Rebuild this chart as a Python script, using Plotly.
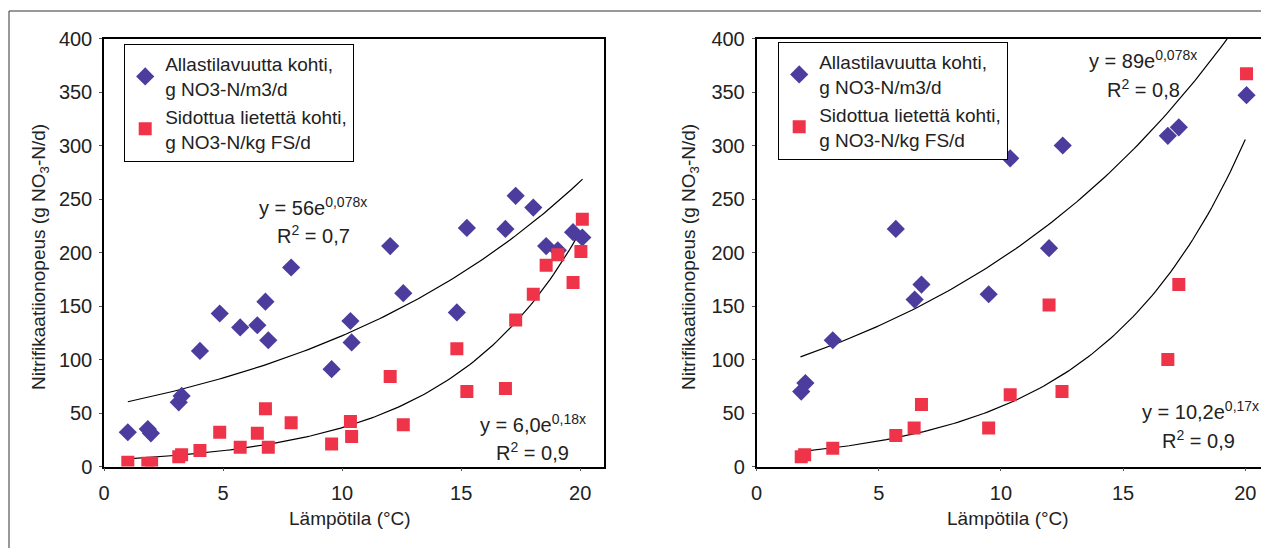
import numpy as np
import plotly.graph_objects as go

# ---------------- data ----------------
# Left panel
left_blue_x = [1.0, 1.84, 1.97, 3.14, 3.26, 4.03, 4.86, 5.72, 6.44, 6.78, 6.9, 7.86, 9.56,
               10.35, 10.4, 12.02, 12.57, 14.82, 15.24, 16.86, 17.29, 18.03, 18.57, 19.06,
               19.7, 20.09]
left_blue_y = [32, 35, 31, 60, 66, 108, 143, 130, 132, 154, 118, 186, 91,
               136, 116, 206, 162, 144, 223, 222, 253, 242, 206, 202,
               219, 214]
left_red_x = [1.0, 1.84, 2.0, 3.14, 3.26, 4.03, 4.86, 5.72, 6.44, 6.78, 6.9, 7.86, 9.56,
              10.35, 10.4, 12.02, 12.57, 14.82, 15.24, 16.86, 17.29, 18.03, 18.57, 19.06,
              19.7, 20.09, 20.03]
left_red_y = [4, 3, 3, 9, 11, 15, 32, 18, 31, 54, 18, 41, 21,
              42, 28, 84, 39, 110, 70, 73, 137, 161, 188, 198,
              172, 231, 201]

# Right panel
right_blue_x = [1.83, 2.0, 3.12, 5.7, 6.47, 6.75, 9.5, 10.38, 11.97, 12.53, 16.83, 17.28, 20.05]
right_blue_y = [70, 78, 118, 222, 156, 170, 161, 288, 204, 300, 309, 317, 347]
right_red_x = [1.83, 1.97, 3.12, 5.7, 6.45, 6.75, 9.5, 10.38, 11.97, 12.5, 16.83, 17.28, 20.05]
right_red_y = [9, 11, 17, 29, 36, 58, 36, 67, 151, 70, 100, 170, 367]

# Trendline coefficients (a * exp(b x)) and drawn x-extent, as printed on the chart
left_blue_fit = (56.0, 0.078, 1.0, 20.1)
left_red_fit = (6.0, 0.18, 1.0, 20.0)
right_blue_fit = (89.0, 0.078, 1.8, 19.27)
right_red_fit = (10.2, 0.17, 1.8, 20.0)

x_ticks = [0, 5, 10, 15, 20]
y_ticks = [0, 50, 100, 150, 200, 250, 300, 350, 400]

series_names = ["Allastilavuutta kohti,<br>g NO3-N/m3/d",
                "Sidottua lietettä kohti,<br>g NO3-N/kg FS/d"]

BLUE = "#4B3C9E"
RED = "#EF3348"
TXT = "#222222"
FONT = "Liberation Sans, Arial, sans-serif"

W, H = 1269, 548
OFF = 8  # page offset of the figure inside the browser window


def px(x):
    return (x - OFF) / W


def py(y):
    return 1 - (y - OFF) / H


fig = go.Figure()


def fit_curve(fit):
    a, b, x0, x1 = fit
    xs = np.linspace(x0, x1, 120)
    return xs, a * np.exp(b * xs)


panels = [
    ("x", "y", "legend", left_blue_x, left_blue_y, left_red_x, left_red_y, left_blue_fit, left_red_fit),
    ("x2", "y2", "legend2", right_blue_x, right_blue_y, right_red_x, right_red_y, right_blue_fit, right_red_fit),
]

for xa, ya, lg, bx, by, rx, ry, bfit, rfit in panels:
    for fit in (bfit, rfit):
        xs, ys = fit_curve(fit)
        fig.add_trace(go.Scatter(x=xs, y=ys, mode="lines", line=dict(color="black", width=1.2),
                                 xaxis=xa, yaxis=ya, showlegend=False, hoverinfo="skip"))
    fig.add_trace(go.Scatter(x=bx, y=by, mode="markers", name=series_names[0],
                             marker=dict(symbol="diamond", size=14, color=BLUE),
                             xaxis=xa, yaxis=ya, legend=lg))
    fig.add_trace(go.Scatter(x=rx, y=ry, mode="markers", name=series_names[1],
                             marker=dict(symbol="square", size=13, color=RED),
                             xaxis=xa, yaxis=ya, legend=lg))

axis_common = dict(
    showline=True, linecolor="black", linewidth=1.5, mirror=True,
    showgrid=False, zeroline=False, ticks="outside", ticklen=3, tickcolor="#555",
    tickfont=dict(family=FONT, size=20, color=TXT), automargin=False,
)

legend_common = dict(xanchor="left", yanchor="top",
                     bordercolor="black", borderwidth=1.2, bgcolor="white",
                     font=dict(family=FONT, size=19, color=TXT),
                     itemwidth=30, tracegroupgap=0)

right_px_per_unit = (1245.3 - 756.5) / 20
right_xmax = (OFF + W - 756.5) / right_px_per_unit

y_dom = [py(466.5), py(38.5)]
fig.update_layout(
    width=W, height=H,
    margin=dict(l=0, r=0, t=0, b=0, pad=0, autoexpand=False),
    paper_bgcolor="white", plot_bgcolor="white",
    font=dict(family=FONT, color=TXT),
    xaxis=dict(domain=[px(104), px(604)], range=[0, 21], tickvals=x_ticks, anchor="y",
               ticklabelstandoff=5, **axis_common),
    yaxis=dict(domain=y_dom, range=[0, 400], tickvals=y_ticks, anchor="x",
               ticklabelstandoff=3, **axis_common),
    xaxis2=dict(domain=[px(756.5), 1.0], range=[0, right_xmax], tickvals=x_ticks, anchor="y2",
                ticklabelstandoff=5, **axis_common),
    yaxis2=dict(domain=y_dom, range=[0, 400], tickvals=y_ticks, anchor="x2",
                ticklabelstandoff=3, **axis_common),
    legend=dict(x=px(124), y=py(44), **legend_common),
    legend2=dict(x=px(778), y=py(42), **legend_common),
    showlegend=True,
)

ann = []


def add_text(text, x, y, size=20, angle=0):
    ann.append(dict(text=text, x=px(x), y=py(y), xref="paper", yref="paper",
                    showarrow=False, textangle=angle, xanchor="center", yanchor="middle",
                    font=dict(family=FONT, size=size, color=TXT)))


# trendline equations
add_text("y = 56e<sup>0,078x</sup>", 313, 206)
add_text("R<sup>2</sup> = 0,7", 313, 235)
add_text("y = 6,0e<sup>0,18x</sup>", 533, 423)
add_text("R<sup>2</sup> = 0,9", 532, 451)
add_text("y = 89e<sup>0,078x</sup>", 1143, 59)
add_text("R<sup>2</sup> = 0,8", 1143, 88)
add_text("y = 10,2e<sup>0,17x</sup>", 1200, 410)
add_text("R<sup>2</sup> = 0,9", 1198, 439)

# axis titles
add_text("Lämpötila (°C)", 350, 518, size=19)
add_text("Lämpötila (°C)", 1008, 518, size=19)
ytitle = "Nitrifikaatiionopeus (g NO<sub>3</sub>-N/d)"
add_text(ytitle, 40, 257, size=19, angle=-90)
add_text(ytitle, 690, 257, size=19, angle=-90)

fig.update_layout(annotations=ann)

# outer panel frame
fig.update_layout(shapes=[
    dict(type="line", xref="paper", yref="paper", x0=px(9), x1=1.0, y0=py(11), y1=py(11),
         line=dict(color="#333", width=1)),
    dict(type="line", xref="paper", yref="paper", x0=px(9), x1=px(9), y0=py(11), y1=0,
         line=dict(color="#333", width=1)),
])

fig.write_html("out.html")
